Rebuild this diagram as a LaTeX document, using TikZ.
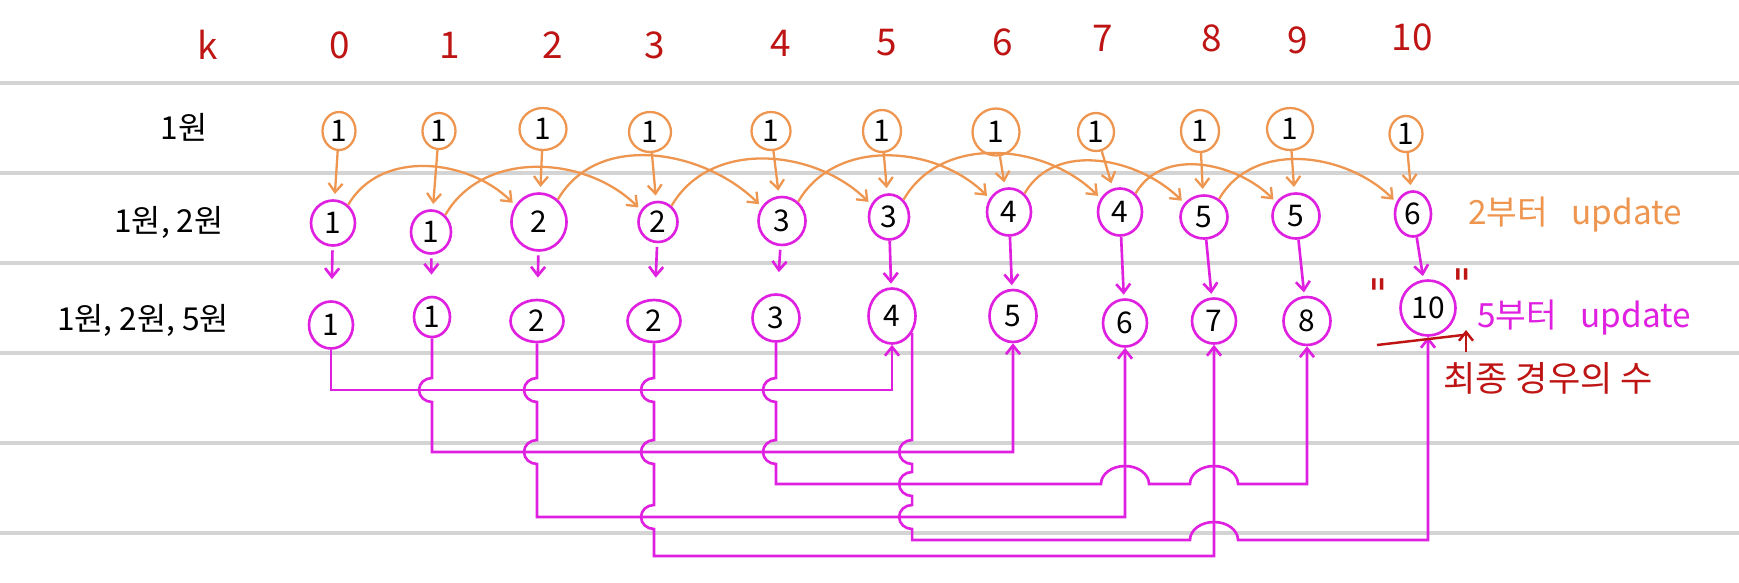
\documentclass[tikz,border=0pt]{standalone}
\usepackage{fontspec}
\setmainfont{Noto Sans CJK KR}
\newfontfamily\qfont{DejaVu Sans}
\usetikzlibrary{shapes.geometric,arrows.meta,calc}
\definecolor{org}{RGB}{238,150,80}
\definecolor{mag}{RGB}{224,32,224}
\definecolor{redk}{RGB}{190,20,20}
\definecolor{rulec}{RGB}{212,212,212}
\begin{document}
\begin{tikzpicture}[x=0.02cm,y=-0.02cm,
  ocirc/.style={ellipse,draw=org,line width=1.3pt,inner sep=0pt,font=\fontsize{17}{17}\selectfont},
  mcirc/.style={ellipse,draw=mag,line width=1.5pt,inner sep=0pt,font=\fontsize{17}{17}\selectfont},
  oarr/.style={draw=org,line width=1.3pt,-{Straight Barb[length=5pt,width=8pt]}},
  marr/.style={draw=mag,line width=1.5pt,-{Straight Barb[length=5pt,width=8pt]}},
  klab/.style={text=redk,font=\fontsize{21}{21}\selectfont},
  rlab/.style={text=black,font=\fontsize{18}{18}\selectfont},
  note/.style={font=\fontsize{19}{19}\selectfont},
  rulel/.style={draw=rulec,line width=1.8pt},
  redl/.style={draw=redk,line width=1.4pt},
]
\fill[white] (0,0) rectangle (1739,582);
\useasboundingbox (0,0) rectangle (1739,582);
% ruled lines
\foreach \yy in {83,173,263,353,443,533} \draw[rulel] (0,\yy) -- (1739,\yy);

% column labels
\node[klab] (kk) at (208,45) {k};
\foreach \i/\xx/\yy in {0/340/45,1/450/45,2/553/45,3/655/45,4/781/43,5/887/43,6/1003/42,7/1103/38,8/1212/38,9/1298/40,10/1412/37}
  \node[klab] (c-\i) at (\xx,\yy) {\i};

% row labels
\node[rlab] (lab1) at (184,127) {1원};
\node[rlab] (lab2) at (169,222) {1원, 2원};
\node[rlab] (lab3) at (143,320) {1원, 2원, 5원};

% row 1 (orange)
\foreach \i/\xx/\yy/\ww/\hh in {0/339/131/.66/.76,1/439/131/.66/.72,2/543/129/.94/.84,3/650/132/.84/.80,4/771/131/.78/.76,5/882/131/.76/.84,6/996/132/.94/.94,7/1096/132/.72/.76,8/1200/131/.76/.84,9/1290/129/.92/.84,10/1406/134/.66/.72}
  \node[ocirc,minimum width=\ww cm,minimum height=\hh cm] (r1-\i) at (\xx,\yy) {1};

% row 2 (magenta)
\foreach \i/\xx/\yy/\ww/\hh/\tt in {0/333/223/.88/.90/1,1/431/232/.80/.86/1,2/539/222/1.1/1.14/2,3/658/222/.78/.80/2,4/782/221/.94/.96/3,5/889/217/.80/.90/3,6/1009/212/.88/.94/4,7/1120/212/.88/.94/4,8/1204/217/.94/.86/5,9/1296/216/.94/.90/5,10/1413/214/.72/.90/6}
  \node[mcirc,minimum width=\ww cm,minimum height=\hh cm] (r2-\i) at (\xx,\yy) {\tt};

% row 3 (magenta)
\foreach \i/\xx/\yy/\ww/\hh/\tt in {0/331/325/.88/.94/1,1/432/317/.72/.80/1,2/537/321/1.06/.84/2,3/654/321/1.06/.84/2,4/776/318/.94/.94/3,5/892/316/.94/1.1/4,6/1013/316/.94/1.04/5,7/1125/323/.88/.94/6,8/1214/321/.88/.90/7,9/1307/321/.94/.96/8,10/1428/308/1.1/1.1/10}
  \node[mcirc,minimum width=\ww cm,minimum height=\hh cm] (r3-\i) at (\xx,\yy) {\tt};

% orange arrows row1 -> row2
\foreach \i in {0,...,10} \draw[oarr,shorten >=3pt] (r1-\i) -- (r2-\i);
% orange arcs i -> i+2
\foreach \i in {0,...,8} {
  \pgfmathtruncatemacro{\jj}{\i+2}
  \draw[oarr,shorten >=2pt] (r2-\i.50) to[out=60,in=135] (r2-\jj.145);
}

% magenta arrows row2 -> row3
\foreach \i in {0,...,4} \draw[marr,shorten <=2pt,shorten >=12pt] (r2-\i) -- (r3-\i);
\foreach \i in {5,...,10} \draw[marr,shorten >=2pt] (r2-\i) -- (r3-\i);

% connectors i -> i+5 (with hops)
\def\VH{arc[start angle=90,end angle=270,x radius=0.26cm,y radius=0.24cm]}
\def\HH{arc[start angle=180,end angle=0,x radius=0.48cm,y radius=0.36cm]}
\draw[marr] (r3-0.south) -- (r3-0.south |- 0,390) -- (r3-5.south |- 0,390) -- (r3-5.south);
\draw[marr] (r3-1.south) -- (r3-1.south |- 0,378) \VH -- (r3-1.south |- 0,452) -- (r3-6.south |- 0,452) -- (r3-6.south);
\draw[marr] (r3-2.south) -- (r3-2.south |- 0,378) \VH -- (r3-2.south |- 0,440) \VH -- (r3-2.south |- 0,517) -- (r3-7.south |- 0,517) -- (r3-7.south);
\draw[marr] (r3-3.south) -- (r3-3.south |- 0,378) \VH -- (r3-3.south |- 0,440) \VH -- (r3-3.south |- 0,505) \VH -- (r3-3.south |- 0,556) -- (r3-8.south |- 0,556) -- (r3-8.south);
\draw[marr] (r3-4.south) -- (r3-4.south |- 0,378) \VH -- (r3-4.south |- 0,440) \VH -- (r3-4.south |- 0,484) -- ($(r3-7.south |- 0,484)+(-24,0)$) \HH -- ($(r3-8.south |- 0,484)+(-24,0)$) \HH -- (r3-9.south |- 0,484) -- (r3-9.south);
\draw[marr] (r3-5.-40) -- (r3-5.-40 |- 0,440) \VH -- (r3-5.-40 |- 0,472) \VH -- (r3-5.-40 |- 0,505) \VH -- (r3-5.-40 |- 0,540) -- ($(r3-8.south |- 0,540)+(-24,0)$) \HH -- (r3-10.south |- 0,540) -- (r3-10.south);

% annotations
\node[note,text=org] (n2) at (1575,215) {2부터\hspace{0.7em}update};
\node[note,text=mag] (n5) at (1584,318) {5부터\hspace{0.7em}update};
\node[note,text=redk,font=\fontsize{20}{20}\selectfont] (nf) at (1548,378) {최종 경우의 수};
\node[text=redk,font=\qfont\fontsize{24}{24}\selectfont] (q1) at (1378,294) {"};
\node[text=redk,font=\qfont\fontsize{24}{24}\selectfont] (q2) at (1462,284) {"};
\coordinate (u1) at (1377,345);
\coordinate (u2) at (1463,335);
\coordinate (u3) at (1466,352);
\coordinate (u4) at (1466,330);
\draw[redl] (u1) -- (u2);
\draw[redl,-{Straight Barb[length=5pt,width=8pt]}] (u3) -- (u4);
\end{tikzpicture}
\end{document}
